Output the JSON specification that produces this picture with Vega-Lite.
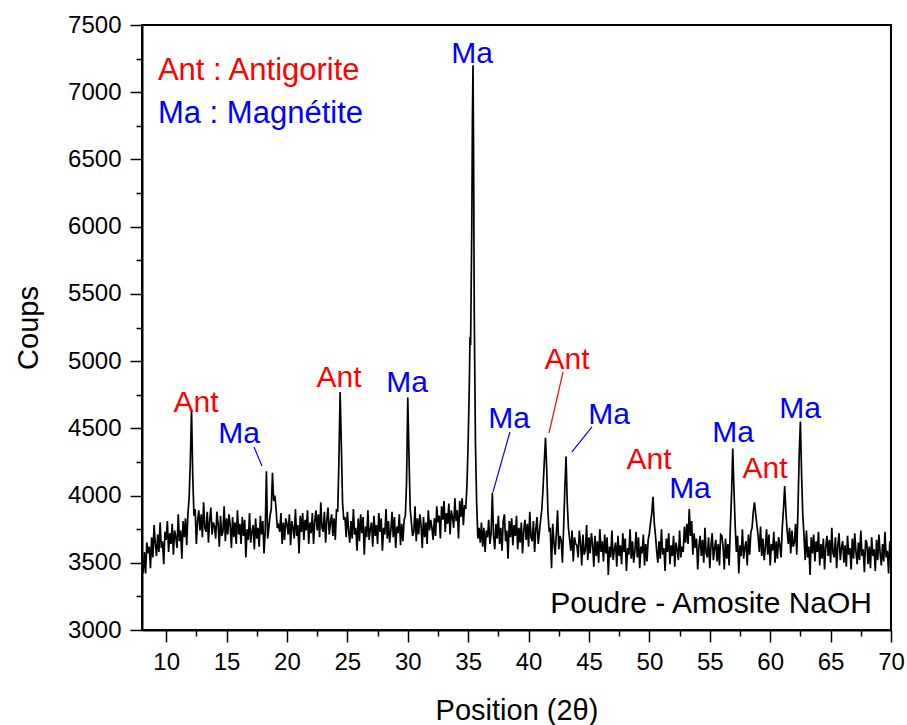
{
  "$schema": "https://vega.github.io/schema/vega-lite/v6.json",
  "width": 749,
  "height": 605,
  "autosize": "none",
  "padding": {"left": 142, "top": 25, "right": 16, "bottom": 95},
  "background": "white",
  "config": {
    "view": {"stroke": "black", "strokeWidth": 2},
    "font": "Liberation Sans",
    "axis": {"grid": false, "domainColor": "black", "domainWidth": 2, "tickColor": "black", "tickWidth": 1.5, "labelColor": "black", "titleColor": "black", "labelFont": "Liberation Sans", "titleFont": "Liberation Sans", "titleFontWeight": "normal"}
  },
  "resolve": {"axis": {"x": "independent", "y": "independent"}},
  "datasets": {
    "xrd": [
      {"x":8.0,"y":3560},{"x":8.1,"y":3420},{"x":8.2,"y":3580},{"x":8.3,"y":3420},{"x":8.4,"y":3650},{"x":8.5,"y":3570},{"x":8.6,"y":3620},{"x":8.7,"y":3460},{"x":8.8,"y":3690},{"x":8.9,"y":3540},
      {"x":9.0,"y":3780},{"x":9.1,"y":3640},{"x":9.2,"y":3550},{"x":9.3,"y":3710},{"x":9.4,"y":3580},{"x":9.5,"y":3800},{"x":9.6,"y":3610},{"x":9.7,"y":3660},{"x":9.8,"y":3490},{"x":9.9,"y":3730},
      {"x":10.0,"y":3670},{"x":10.1,"y":3810},{"x":10.2,"y":3580},{"x":10.3,"y":3720},{"x":10.4,"y":3640},{"x":10.5,"y":3790},{"x":10.6,"y":3560},{"x":10.7,"y":3740},{"x":10.8,"y":3690},{"x":10.9,"y":3610},
      {"x":11.0,"y":3860},{"x":11.1,"y":3660},{"x":11.2,"y":3740},{"x":11.3,"y":3530},{"x":11.4,"y":3810},{"x":11.5,"y":3690},{"x":11.6,"y":3830},{"x":11.7,"y":3630},{"x":11.8,"y":3860},{"x":11.9,"y":3980},
      {"x":12.0,"y":4250},{"x":12.1,"y":4640},{"x":12.2,"y":4150},{"x":12.3,"y":3850},{"x":12.4,"y":3900},{"x":12.5,"y":3640},{"x":12.6,"y":3810},{"x":12.7,"y":3890},{"x":12.8,"y":3740},{"x":12.9,"y":3860},
      {"x":13.0,"y":3690},{"x":13.1,"y":3950},{"x":13.2,"y":3760},{"x":13.3,"y":3730},{"x":13.4,"y":3880},{"x":13.5,"y":3650},{"x":13.6,"y":3820},{"x":13.7,"y":3910},{"x":13.8,"y":3710},{"x":13.9,"y":3800},
      {"x":14.0,"y":3770},{"x":14.1,"y":3680},{"x":14.2,"y":3880},{"x":14.3,"y":3790},{"x":14.4,"y":3620},{"x":14.5,"y":3850},{"x":14.6,"y":3700},{"x":14.7,"y":3730},{"x":14.8,"y":3920},{"x":14.9,"y":3660},
      {"x":15.0,"y":3830},{"x":15.1,"y":3710},{"x":15.2,"y":3860},{"x":15.3,"y":3780},{"x":15.4,"y":3610},{"x":15.5,"y":3840},{"x":15.6,"y":3690},{"x":15.7,"y":3800},{"x":15.8,"y":3640},{"x":15.9,"y":3890},
      {"x":16.0,"y":3710},{"x":16.1,"y":3790},{"x":16.2,"y":3640},{"x":16.3,"y":3840},{"x":16.4,"y":3700},{"x":16.5,"y":3820},{"x":16.6,"y":3540},{"x":16.7,"y":3750},{"x":16.8,"y":3670},{"x":16.9,"y":3870},
      {"x":17.0,"y":3650},{"x":17.1,"y":3730},{"x":17.2,"y":3780},{"x":17.3,"y":3600},{"x":17.4,"y":3830},{"x":17.5,"y":3680},{"x":17.6,"y":3760},{"x":17.7,"y":3620},{"x":17.8,"y":3850},{"x":17.9,"y":3710},
      {"x":18.0,"y":3810},{"x":18.1,"y":3570},{"x":18.2,"y":3740},{"x":18.3,"y":4180},{"x":18.4,"y":3680},{"x":18.5,"y":3760},{"x":18.6,"y":3850},{"x":18.7,"y":3900},{"x":18.8,"y":4170},{"x":18.9,"y":3960},
      {"x":19.0,"y":4000},{"x":19.1,"y":3900},{"x":19.2,"y":3760},{"x":19.3,"y":3780},{"x":19.4,"y":3730},{"x":19.5,"y":3870},{"x":19.6,"y":3640},{"x":19.7,"y":3800},{"x":19.8,"y":3670},{"x":19.9,"y":3830},
      {"x":20.0,"y":3790},{"x":20.1,"y":3710},{"x":20.2,"y":3860},{"x":20.3,"y":3630},{"x":20.4,"y":3810},{"x":20.5,"y":3760},{"x":20.6,"y":3680},{"x":20.7,"y":3900},{"x":20.8,"y":3700},{"x":20.9,"y":3780},
      {"x":21.0,"y":3570},{"x":21.1,"y":3850},{"x":21.2,"y":3730},{"x":21.3,"y":3870},{"x":21.4,"y":3670},{"x":21.5,"y":3820},{"x":21.6,"y":3740},{"x":21.7,"y":3890},{"x":21.8,"y":3640},{"x":21.9,"y":3800},
      {"x":22.0,"y":3720},{"x":22.1,"y":3870},{"x":22.2,"y":3640},{"x":22.3,"y":3810},{"x":22.4,"y":3890},{"x":22.5,"y":3740},{"x":22.6,"y":3860},{"x":22.7,"y":3690},{"x":22.8,"y":3950},{"x":22.9,"y":3760},
      {"x":23.0,"y":3730},{"x":23.1,"y":3880},{"x":23.2,"y":3650},{"x":23.3,"y":3820},{"x":23.4,"y":3910},{"x":23.5,"y":3710},{"x":23.6,"y":3800},{"x":23.7,"y":3860},{"x":23.8,"y":3700},{"x":23.9,"y":3830},
      {"x":24.0,"y":3670},{"x":24.1,"y":3900},{"x":24.2,"y":3880},{"x":24.3,"y":4250},{"x":24.4,"y":4770},{"x":24.5,"y":4380},{"x":24.6,"y":3950},{"x":24.7,"y":3820},{"x":24.8,"y":3840},{"x":24.9,"y":3690},
      {"x":25.0,"y":3880},{"x":25.1,"y":3740},{"x":25.2,"y":3650},{"x":25.3,"y":3810},{"x":25.4,"y":3680},{"x":25.5,"y":3900},{"x":25.6,"y":3710},{"x":25.7,"y":3760},{"x":25.8,"y":3590},{"x":25.9,"y":3830},
      {"x":26.0,"y":3660},{"x":26.1,"y":3860},{"x":26.2,"y":3720},{"x":26.3,"y":3840},{"x":26.4,"y":3560},{"x":26.5,"y":3770},{"x":26.6,"y":3690},{"x":26.7,"y":3890},{"x":26.8,"y":3670},{"x":26.9,"y":3750},
      {"x":27.0,"y":3800},{"x":27.1,"y":3620},{"x":27.2,"y":3850},{"x":27.3,"y":3700},{"x":27.4,"y":3780},{"x":27.5,"y":3640},{"x":27.6,"y":3870},{"x":27.7,"y":3730},{"x":27.8,"y":3830},{"x":27.9,"y":3590},
      {"x":28.0,"y":3760},{"x":28.1,"y":3710},{"x":28.2,"y":3900},{"x":28.3,"y":3680},{"x":28.4,"y":3810},{"x":28.5,"y":3650},{"x":28.6,"y":3740},{"x":28.7,"y":3880},{"x":28.8,"y":3690},{"x":28.9,"y":3840},
      {"x":29.0,"y":3610},{"x":29.1,"y":3770},{"x":29.2,"y":3720},{"x":29.3,"y":3860},{"x":29.4,"y":3630},{"x":29.5,"y":3790},{"x":29.6,"y":3660},{"x":29.7,"y":3820},{"x":29.8,"y":3850},{"x":29.9,"y":4100},
      {"x":30.0,"y":4730},{"x":30.1,"y":4300},{"x":30.2,"y":3900},{"x":30.3,"y":3800},{"x":30.4,"y":3700},{"x":30.5,"y":3730},{"x":30.6,"y":3920},{"x":30.7,"y":3660},{"x":30.8,"y":3830},{"x":30.9,"y":3710},
      {"x":31.0,"y":3860},{"x":31.1,"y":3780},{"x":31.2,"y":3610},{"x":31.3,"y":3840},{"x":31.4,"y":3690},{"x":31.5,"y":3800},{"x":31.6,"y":3640},{"x":31.7,"y":3890},{"x":31.8,"y":3740},{"x":31.9,"y":3820},
      {"x":32.0,"y":3760},{"x":32.1,"y":3670},{"x":32.2,"y":3830},{"x":32.3,"y":3700},{"x":32.4,"y":3920},{"x":32.5,"y":3800},{"x":32.6,"y":3850},{"x":32.7,"y":3680},{"x":32.8,"y":3920},{"x":32.9,"y":3820},
      {"x":33.0,"y":3960},{"x":33.1,"y":3730},{"x":33.2,"y":3870},{"x":33.3,"y":3790},{"x":33.4,"y":3940},{"x":33.5,"y":3710},{"x":33.6,"y":3890},{"x":33.7,"y":3840},{"x":33.8,"y":3760},{"x":33.9,"y":3980},
      {"x":34.0,"y":3810},{"x":34.1,"y":3890},{"x":34.2,"y":3680},{"x":34.3,"y":3960},{"x":34.4,"y":3840},{"x":34.5,"y":3980},{"x":34.6,"y":3780},{"x":34.7,"y":3930},{"x":34.8,"y":3900},{"x":34.9,"y":4080},
      {"x":35.0,"y":4400},{"x":35.1,"y":4850},{"x":35.15,"y":5180},{"x":35.2,"y":5120},{"x":35.3,"y":6000},{"x":35.35,"y":6800},{"x":35.4,"y":7200},{"x":35.45,"y":6500},{"x":35.5,"y":5400},{"x":35.6,"y":4400},
      {"x":35.7,"y":3950},{"x":35.8,"y":3680},{"x":35.9,"y":3760},
      {"x":36.0,"y":3650},{"x":36.1,"y":3800},{"x":36.2,"y":3620},{"x":36.3,"y":3760},{"x":36.4,"y":3580},{"x":36.5,"y":3740},{"x":36.6,"y":3690},{"x":36.7,"y":3820},{"x":36.8,"y":3640},{"x":36.9,"y":3720},
      {"x":37.0,"y":4020},{"x":37.1,"y":3700},{"x":37.2,"y":3600},{"x":37.3,"y":3790},{"x":37.4,"y":3680},{"x":37.5,"y":3850},{"x":37.6,"y":3640},{"x":37.7,"y":3760},{"x":37.8,"y":3590},{"x":37.9,"y":3810},
      {"x":38.0,"y":3860},{"x":38.1,"y":3660},{"x":38.2,"y":3740},{"x":38.3,"y":3530},{"x":38.4,"y":3810},{"x":38.5,"y":3690},{"x":38.6,"y":3830},{"x":38.7,"y":3630},{"x":38.8,"y":3780},{"x":38.9,"y":3700},
      {"x":39.0,"y":3850},{"x":39.1,"y":3600},{"x":39.2,"y":3760},{"x":39.3,"y":3650},{"x":39.4,"y":3800},{"x":39.5,"y":3570},{"x":39.6,"y":3740},{"x":39.7,"y":3820},{"x":39.8,"y":3670},{"x":39.9,"y":3790},
      {"x":40.0,"y":3620},{"x":40.1,"y":3880},{"x":40.2,"y":3690},{"x":40.3,"y":3660},{"x":40.4,"y":3810},{"x":40.5,"y":3580},{"x":40.6,"y":3750},{"x":40.7,"y":3840},{"x":40.8,"y":3640},{"x":40.9,"y":3730},
      {"x":41.0,"y":3820},{"x":41.1,"y":3900},{"x":41.2,"y":4060},{"x":41.3,"y":4250},{"x":41.4,"y":4430},{"x":41.5,"y":4200},{"x":41.6,"y":3880},{"x":41.7,"y":3740},{"x":41.8,"y":3750},{"x":41.9,"y":3460},
      {"x":42.0,"y":3790},{"x":42.1,"y":3650},{"x":42.2,"y":3560},{"x":42.3,"y":3720},{"x":42.4,"y":3890},{"x":42.5,"y":3600},{"x":42.6,"y":3700},{"x":42.7,"y":3670},{"x":42.8,"y":3500},{"x":42.9,"y":3760},
      {"x":43.0,"y":4050},{"x":43.1,"y":4290},{"x":43.2,"y":3950},{"x":43.3,"y":3760},{"x":43.4,"y":3670},{"x":43.5,"y":3590},{"x":43.6,"y":3740},{"x":43.7,"y":3510},{"x":43.8,"y":3690},{"x":43.9,"y":3640},
      {"x":44.0,"y":3630},{"x":44.1,"y":3540},{"x":44.2,"y":3740},{"x":44.3,"y":3650},{"x":44.4,"y":3480},{"x":44.5,"y":3710},{"x":44.6,"y":3560},{"x":44.7,"y":3590},{"x":44.8,"y":3780},{"x":44.9,"y":3520},
      {"x":45.0,"y":3690},{"x":45.1,"y":3570},{"x":45.2,"y":3720},{"x":45.3,"y":3640},{"x":45.4,"y":3470},{"x":45.5,"y":3700},{"x":45.6,"y":3550},{"x":45.7,"y":3660},{"x":45.8,"y":3500},{"x":45.9,"y":3750},
      {"x":46.0,"y":3580},{"x":46.1,"y":3660},{"x":46.2,"y":3510},{"x":46.3,"y":3710},{"x":46.4,"y":3570},{"x":46.5,"y":3690},{"x":46.6,"y":3410},{"x":46.7,"y":3620},{"x":46.8,"y":3540},{"x":46.9,"y":3740},
      {"x":47.0,"y":3520},{"x":47.1,"y":3600},{"x":47.2,"y":3650},{"x":47.3,"y":3470},{"x":47.4,"y":3700},{"x":47.5,"y":3550},{"x":47.6,"y":3630},{"x":47.7,"y":3490},{"x":47.8,"y":3720},{"x":47.9,"y":3580},
      {"x":48.0,"y":3680},{"x":48.1,"y":3440},{"x":48.2,"y":3610},{"x":48.3,"y":3560},{"x":48.4,"y":3750},{"x":48.5,"y":3530},{"x":48.6,"y":3660},{"x":48.7,"y":3500},{"x":48.8,"y":3590},{"x":48.9,"y":3730},
      {"x":49.0,"y":3540},{"x":49.1,"y":3690},{"x":49.2,"y":3460},{"x":49.3,"y":3620},{"x":49.4,"y":3570},{"x":49.5,"y":3710},{"x":49.6,"y":3480},{"x":49.7,"y":3640},{"x":49.8,"y":3510},{"x":49.9,"y":3670},
      {"x":50.0,"y":3720},{"x":50.1,"y":3800},{"x":50.2,"y":3870},{"x":50.3,"y":3990},{"x":50.4,"y":3800},{"x":50.5,"y":3710},{"x":50.6,"y":3590},{"x":50.7,"y":3500},{"x":50.8,"y":3660},{"x":50.9,"y":3530},
      {"x":51.0,"y":3750},{"x":51.1,"y":3560},{"x":51.2,"y":3610},{"x":51.3,"y":3440},{"x":51.4,"y":3680},{"x":51.5,"y":3580},{"x":51.6,"y":3720},{"x":51.7,"y":3490},{"x":51.8,"y":3630},{"x":51.9,"y":3550},
      {"x":52.0,"y":3700},{"x":52.1,"y":3470},{"x":52.2,"y":3650},{"x":52.3,"y":3600},{"x":52.4,"y":3520},{"x":52.5,"y":3740},{"x":52.6,"y":3540},{"x":52.7,"y":3620},{"x":52.8,"y":3580},{"x":52.9,"y":3770},
      {"x":53.0,"y":3650},{"x":53.1,"y":3790},{"x":53.2,"y":3640},{"x":53.3,"y":3900},{"x":53.4,"y":3700},{"x":53.5,"y":3810},{"x":53.6,"y":3560},{"x":53.7,"y":3720},{"x":53.8,"y":3610},{"x":53.9,"y":3680},
      {"x":54.0,"y":3450},{"x":54.1,"y":3620},{"x":54.2,"y":3700},{"x":54.3,"y":3550},{"x":54.4,"y":3670},{"x":54.5,"y":3500},{"x":54.6,"y":3760},{"x":54.7,"y":3570},{"x":54.8,"y":3540},{"x":54.9,"y":3690},
      {"x":55.0,"y":3460},{"x":55.1,"y":3630},{"x":55.2,"y":3720},{"x":55.3,"y":3520},{"x":55.4,"y":3610},{"x":55.5,"y":3670},{"x":55.6,"y":3510},{"x":55.7,"y":3640},{"x":55.8,"y":3480},{"x":55.9,"y":3710},
      {"x":56.0,"y":3700},{"x":56.1,"y":3620},{"x":56.2,"y":3450},{"x":56.3,"y":3680},{"x":56.4,"y":3530},{"x":56.5,"y":3640},{"x":56.6,"y":3480},{"x":56.7,"y":3760},{"x":56.8,"y":4000},{"x":56.9,"y":4350},
      {"x":57.0,"y":4050},{"x":57.1,"y":3780},{"x":57.2,"y":3580},{"x":57.3,"y":3700},{"x":57.4,"y":3420},{"x":57.5,"y":3630},{"x":57.6,"y":3550},{"x":57.7,"y":3750},{"x":57.8,"y":3530},{"x":57.9,"y":3610},
      {"x":58.0,"y":3660},{"x":58.1,"y":3480},{"x":58.2,"y":3710},{"x":58.3,"y":3560},{"x":58.4,"y":3730},{"x":58.5,"y":3760},{"x":58.6,"y":3880},{"x":58.7,"y":3950},{"x":58.8,"y":3860},{"x":58.9,"y":3780},
      {"x":59.0,"y":3700},{"x":59.1,"y":3580},{"x":59.2,"y":3770},{"x":59.3,"y":3550},{"x":59.4,"y":3680},{"x":59.5,"y":3520},{"x":59.6,"y":3610},{"x":59.7,"y":3750},{"x":59.8,"y":3560},{"x":59.9,"y":3710},
      {"x":60.0,"y":3480},{"x":60.1,"y":3640},{"x":60.2,"y":3590},{"x":60.3,"y":3730},{"x":60.4,"y":3500},{"x":60.5,"y":3660},{"x":60.6,"y":3530},{"x":60.7,"y":3690},{"x":60.8,"y":3630},{"x":60.9,"y":3540},
      {"x":61.0,"y":3760},{"x":61.1,"y":3900},{"x":61.2,"y":4070},{"x":61.3,"y":3880},{"x":61.4,"y":3740},{"x":61.5,"y":3640},{"x":61.6,"y":3760},{"x":61.7,"y":3570},{"x":61.8,"y":3740},{"x":61.9,"y":3620},
      {"x":62.0,"y":3650},{"x":62.1,"y":3790},{"x":62.2,"y":3560},{"x":62.3,"y":3900},{"x":62.4,"y":4300},{"x":62.5,"y":4550},{"x":62.6,"y":4150},{"x":62.7,"y":3850},{"x":62.8,"y":3700},{"x":62.9,"y":3520},
      {"x":63.0,"y":3740},{"x":63.1,"y":3540},{"x":63.2,"y":3620},{"x":63.3,"y":3410},{"x":63.4,"y":3690},{"x":63.5,"y":3570},{"x":63.6,"y":3710},{"x":63.7,"y":3510},{"x":63.8,"y":3660},{"x":63.9,"y":3580},
      {"x":64.0,"y":3730},{"x":64.1,"y":3480},{"x":64.2,"y":3640},{"x":64.3,"y":3530},{"x":64.4,"y":3680},{"x":64.5,"y":3450},{"x":64.6,"y":3620},{"x":64.7,"y":3700},{"x":64.8,"y":3550},{"x":64.9,"y":3670},
      {"x":65.0,"y":3500},{"x":65.1,"y":3760},{"x":65.2,"y":3570},{"x":65.3,"y":3540},{"x":65.4,"y":3690},{"x":65.5,"y":3460},{"x":65.6,"y":3630},{"x":65.7,"y":3720},{"x":65.8,"y":3520},{"x":65.9,"y":3610},
      {"x":66.0,"y":3660},{"x":66.1,"y":3500},{"x":66.2,"y":3630},{"x":66.3,"y":3470},{"x":66.4,"y":3700},{"x":66.5,"y":3560},{"x":66.6,"y":3610},{"x":66.7,"y":3450},{"x":66.8,"y":3680},{"x":66.9,"y":3530},
      {"x":67.0,"y":3720},{"x":67.1,"y":3580},{"x":67.2,"y":3490},{"x":67.3,"y":3650},{"x":67.4,"y":3520},{"x":67.5,"y":3740},{"x":67.6,"y":3550},{"x":67.7,"y":3600},{"x":67.8,"y":3430},{"x":67.9,"y":3670},
      {"x":68.0,"y":3650},{"x":68.1,"y":3490},{"x":68.2,"y":3620},{"x":68.3,"y":3460},{"x":68.4,"y":3690},{"x":68.5,"y":3550},{"x":68.6,"y":3600},{"x":68.7,"y":3440},{"x":68.8,"y":3670},{"x":68.9,"y":3520},
      {"x":69.0,"y":3710},{"x":69.1,"y":3570},{"x":69.2,"y":3480},{"x":69.3,"y":3640},{"x":69.4,"y":3510},{"x":69.5,"y":3730},{"x":69.6,"y":3540},{"x":69.7,"y":3590},{"x":69.8,"y":3420},{"x":69.9,"y":3660},
      {"x":70.0,"y":3560}
    ],
    "peaks": [
      {"x":35.32,"y":7217,"label":"Ma","phase":"Ma"},
      {"x":12.47,"y":4621,"label":"Ant","phase":"Ant"},
      {"x":16.03,"y":4391,"label":"Ma","phase":"Ma"},
      {"x":24.31,"y":4807,"label":"Ant","phase":"Ant"},
      {"x":29.94,"y":4770,"label":"Ma","phase":"Ma"},
      {"x":38.38,"y":4502,"label":"Ma","phase":"Ma"},
      {"x":43.18,"y":4941,"label":"Ant","phase":"Ant"},
      {"x":46.66,"y":4532,"label":"Ma","phase":"Ma"},
      {"x":49.97,"y":4198,"label":"Ant","phase":"Ant"},
      {"x":53.36,"y":3982,"label":"Ma","phase":"Ma"},
      {"x":56.92,"y":4398,"label":"Ma","phase":"Ma"},
      {"x":59.57,"y":4131,"label":"Ant","phase":"Ant"},
      {"x":62.47,"y":4577,"label":"Ma","phase":"Ma"}
    ],
    "leaders": [
      {"x":17.27,"y":4361,"x2":17.93,"y2":4220,"phase":"Ma"},
      {"x":38.46,"y":4473,"x2":37.05,"y2":4026,"phase":"Ma"},
      {"x":42.85,"y":4919,"x2":41.69,"y2":4465,"phase":"Ant"},
      {"x":45.25,"y":4510,"x2":43.59,"y2":4324,"phase":"Ma"}
    ],
    "legendText": [
      {"x":9.32,"y":7091,"label":"Ant : Antigorite","phase":"Ant"},
      {"x":9.32,"y":6771,"label":"Ma : Magnétite","phase":"Ma"}
    ],
    "sample": [
      {"x":68.43,"y":3126,"label":"Poudre - Amosite NaOH","phase":"none"}
    ]
  },
  "layer": [
    {
      "data": {"name": "xrd"},
      "mark": {"type": "line", "color": "black", "strokeWidth": 1.7},
      "encoding": {
        "x": {
          "field": "x", "type": "quantitative",
          "scale": {"domain": [8, 70], "nice": false, "zero": false},
          "axis": {
            "orient": "bottom",
            "title": "Position (2θ)",
            "titleFontSize": 29, "titlePadding": 22,
            "values": [10,15,20,25,30,35,40,45,50,55,60,65,70],
            "tickSize": 12,
            "labelFontSize": 24, "labelPadding": 8, "labelFlush": false
          }
        },
        "y": {
          "field": "y", "type": "quantitative",
          "scale": {"domain": [3000, 7500], "nice": false, "zero": false},
          "axis": {
            "orient": "left",
            "title": "Coups",
            "titleFontSize": 29, "titlePadding": 24,
            "values": [3000,3500,4000,4500,5000,5500,6000,6500,7000,7500],
            "format": "d",
            "tickSize": 12,
            "labelFontSize": 24, "labelPadding": 9, "labelFlush": false
          }
        }
      }
    },
    {
      "data": {"name": "leaders"},
      "mark": {"type": "rule", "strokeWidth": 1.2},
      "encoding": {
        "x": {"field": "x", "type": "quantitative",
          "axis": {"orient": "bottom", "title": null, "labels": false, "domain": false, "tickSize": 6,
            "values": [12.5,17.5,22.5,27.5,32.5,37.5,42.5,47.5,52.5,57.5,62.5,67.5]}},
        "y": {"field": "y", "type": "quantitative",
          "axis": {"orient": "left", "title": null, "labels": false, "domain": false, "tickSize": 6,
            "values": [3250,3750,4250,4750,5250,5750,6250,6750,7250]}},
        "x2": {"field": "x2"},
        "y2": {"field": "y2"},
        "color": {"field": "phase", "type": "nominal", "scale": {"domain": ["Ant", "Ma", "none"], "range": ["#ff0000", "#0000ff", "#000000"]}, "legend": null}
      }
    },
    {
      "data": {"name": "peaks"},
      "mark": {"type": "text", "fontSize": 30, "align": "center", "baseline": "alphabetic", "font": "Liberation Sans"},
      "encoding": {
        "x": {"field": "x", "type": "quantitative", "axis": null},
        "y": {"field": "y", "type": "quantitative", "axis": null},
        "text": {"field": "label"},
        "color": {"field": "phase", "type": "nominal", "scale": {"domain": ["Ant", "Ma", "none"], "range": ["#ff0000", "#0000ff", "#000000"]}, "legend": null}
      }
    },
    {
      "data": {"name": "legendText"},
      "mark": {"type": "text", "fontSize": 31, "align": "left", "baseline": "alphabetic", "font": "Liberation Sans"},
      "encoding": {
        "x": {"field": "x", "type": "quantitative", "axis": null},
        "y": {"field": "y", "type": "quantitative", "axis": null},
        "text": {"field": "label"},
        "color": {"field": "phase", "type": "nominal", "scale": {"domain": ["Ant", "Ma", "none"], "range": ["#ff0000", "#0000ff", "#000000"]}, "legend": null}
      }
    },
    {
      "data": {"name": "sample"},
      "mark": {"type": "text", "fontSize": 30, "align": "right", "baseline": "alphabetic", "font": "Liberation Sans"},
      "encoding": {
        "x": {"field": "x", "type": "quantitative", "axis": null},
        "y": {"field": "y", "type": "quantitative", "axis": null},
        "text": {"field": "label"},
        "color": {"field": "phase", "type": "nominal", "scale": {"domain": ["Ant", "Ma", "none"], "range": ["#ff0000", "#0000ff", "#000000"]}, "legend": null}
      }
    }
  ]
}
